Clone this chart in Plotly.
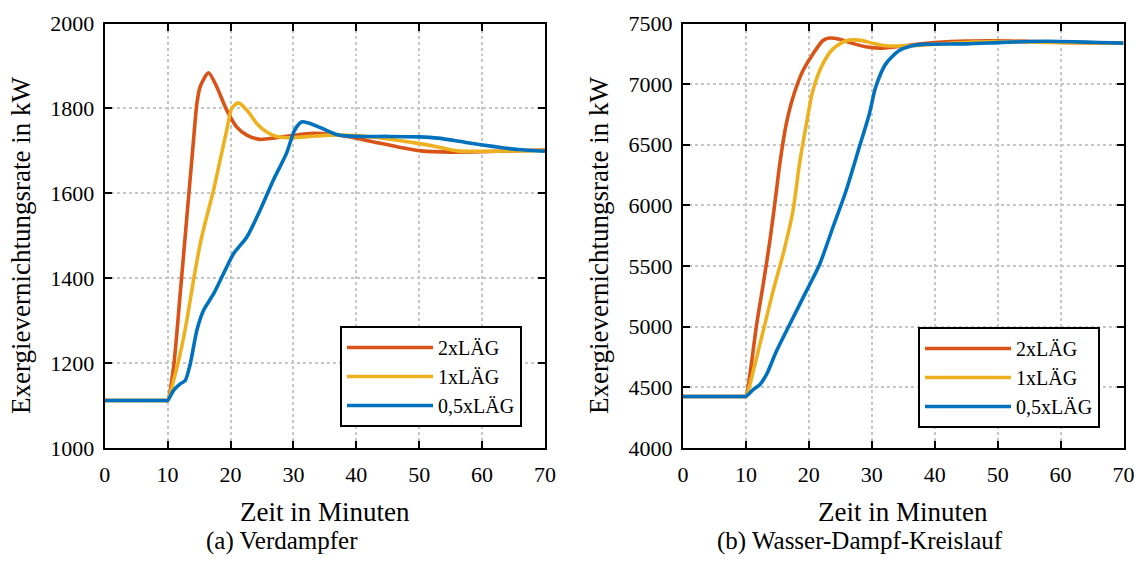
import plotly.graph_objects as go

FONT = "Liberation Serif"
C_RED = "#D95319"
C_YEL = "#EDB120"
C_BLU = "#0072BD"

series_names = ["2xLÄG", "1xLÄG", "0,5xLÄG"]

# (a) Verdampfer
a_t_red = [0, 5, 9.6, 10, 10.95, 12.0, 13.06, 14.12, 14.65, 15.18, 16.5, 17.8, 19.4, 21.0, 22.6, 24.7, 27.3, 32.6, 36, 40, 43.4, 47, 50.3, 55, 60, 65, 70]
a_v_red = [1112, 1112, 1112, 1112, 1191, 1363, 1544, 1725, 1811, 1851, 1884, 1851, 1796, 1756, 1737, 1727, 1731, 1741, 1739, 1730, 1719, 1708, 1700, 1697, 1698, 1700, 1702]
a_t_yel = [0, 5, 9.6, 10, 10.95, 12.0, 13.06, 14.12, 15.18, 16.2, 17.3, 18.35, 19.4, 20.2, 21.25, 22.6, 24.2, 25.7, 27.3, 30, 32.6, 36, 40, 45, 50, 52.4, 56.1, 60, 65, 70]
a_v_yel = [1112, 1112, 1112, 1112, 1159, 1222, 1301, 1395, 1481, 1544, 1607, 1678, 1749, 1800, 1813, 1796, 1764, 1745, 1734, 1731, 1734, 1737, 1736, 1728, 1717, 1711, 1700, 1699, 1700, 1701]
a_t_blu = [0, 5, 9.6, 10, 10.95, 12.0, 12.8, 13.6, 14.65, 15.7, 17.3, 18.9, 20.5, 22.6, 24.7, 26.8, 28.9, 30.2, 31.3, 32.3, 34.4, 37, 40, 45, 50, 53, 57.7, 62, 65.7, 70]
a_v_blu = [1112, 1112, 1112, 1112, 1136, 1151, 1159, 1198, 1277, 1324, 1363, 1411, 1458, 1497, 1560, 1631, 1694, 1749, 1768, 1766, 1754, 1738, 1734, 1734, 1733, 1730, 1719, 1710, 1703, 1699]

# (b) Wasser-Dampf-Kreislauf
b_t_red = [0, 5, 9.6, 10, 10.63, 11.7, 12.74, 13.8, 14.84, 15.37, 16.4, 17.47, 19.05, 20.63, 22.2, 23.26, 24.84, 26.95, 29.05, 31.2, 33.8, 36.4, 40, 45, 50, 55, 60, 65, 70]
b_v_red = [4425, 4425, 4425, 4425, 4605, 5018, 5348, 5706, 6119, 6339, 6669, 6890, 7110, 7247, 7358, 7380, 7371, 7336, 7308, 7297, 7308, 7325, 7342, 7355, 7357, 7352, 7345, 7340, 7338]
b_t_yel = [0, 5, 9.6, 10, 11.16, 12.2, 13.26, 14.3, 15.9, 17.47, 18.5, 19.6, 20.63, 22.2, 23.8, 25.9, 28.0, 30.1, 32.2, 35.4, 38, 42, 46, 50, 55, 60, 70]
b_v_yel = [4425, 4425, 4425, 4425, 4632, 4852, 5073, 5293, 5596, 5954, 6339, 6669, 6945, 7165, 7289, 7358, 7363, 7338, 7316, 7316, 7322, 7335, 7348, 7352, 7348, 7342, 7338]
b_t_blu = [0, 5, 9.6, 10, 11.16, 12.2, 13.26, 14.84, 16.95, 19.6, 21.7, 23.8, 25.9, 28.0, 29.6, 30.6, 32.2, 34.3, 36.4, 38, 45, 50, 55, 58, 62, 66, 70]
b_v_blu = [4425, 4425, 4425, 4425, 4481, 4522, 4605, 4797, 5018, 5293, 5513, 5816, 6119, 6477, 6752, 6972, 7165, 7275, 7316, 7328, 7332, 7342, 7352, 7354, 7350, 7343, 7338]

x_ticks = [0, 10, 20, 30, 40, 50, 60, 70]
a_y_ticks = [1000, 1200, 1400, 1600, 1800, 2000]
b_y_ticks = [4000, 4500, 5000, 5500, 6000, 6500, 7000, 7500]

fig = go.Figure()

def add(t, v, name, color, xa, ya, leg):
    fig.add_trace(go.Scatter(
        x=t, y=v, name=name, mode="lines",
        line=dict(color=color, width=3.6, shape="spline", smoothing=0.7),
        xaxis=xa, yaxis=ya, legend=leg, showlegend=True,
    ))

add(a_t_red, a_v_red, series_names[0], C_RED, "x", "y", "legend")
add(a_t_yel, a_v_yel, series_names[1], C_YEL, "x", "y", "legend")
add(a_t_blu, a_v_blu, series_names[2], C_BLU, "x", "y", "legend")
add(b_t_red, b_v_red, series_names[0], C_RED, "x2", "y2", "legend2")
add(b_t_yel, b_v_yel, series_names[1], C_YEL, "x2", "y2", "legend2")
add(b_t_blu, b_v_blu, series_names[2], C_BLU, "x2", "y2", "legend2")

W, H = 1140, 572
def px(x):
    return x / W
def py(y):
    return 1 - y / H

common_axis = dict(
    showline=True, linecolor="black", linewidth=2, mirror="ticks",
    ticks="inside", ticklen=7, tickwidth=1.5, tickcolor="black",
    showgrid=True, gridcolor="#c6c6c6", gridwidth=1.5, griddash="dot",
    zeroline=False, automargin=False,
    tickfont=dict(family=FONT, size=22, color="black"),
)
x_axis = dict(common_axis, ticklabelstandoff=6)
y_axis = dict(common_axis, ticklabelstandoff=4)

ydom = [py(448), py(23.5)]
leg_common = dict(xanchor="right", yanchor="top",
                  bordercolor="black", borderwidth=2, bgcolor="white",
                  font=dict(family=FONT, size=20, color="black"), itemwidth=86,
                  tracegroupgap=0)
fig.update_layout(
    width=W, height=H,
    margin=dict(l=0, r=0, t=0, b=0, autoexpand=False),
    paper_bgcolor="white", plot_bgcolor="white",
    font=dict(family=FONT, color="black"),
    xaxis=dict(domain=[px(104.7), px(545)], range=[0, 70], tickvals=x_ticks, anchor="y", **x_axis),
    yaxis=dict(domain=ydom, range=[1000, 2000], tickvals=a_y_ticks, anchor="x", **y_axis),
    xaxis2=dict(domain=[px(683), px(1123.5)], range=[0, 70], tickvals=x_ticks, anchor="y2", **x_axis),
    yaxis2=dict(domain=ydom, range=[4000, 7500], tickvals=b_y_ticks, anchor="x2", **y_axis),
    legend=dict(x=px(522), y=py(326), **leg_common),
    legend2=dict(x=px(1100), y=py(327), **leg_common),
    showlegend=True,
)

ann_font_title = dict(family=FONT, size=27, color="black")
ann_font_cap = dict(family=FONT, size=25, color="black")
annotations = [
    dict(text="Zeit in Minuten", x=px(325), y=py(512), font=ann_font_title),
    dict(text="Zeit in Minuten", x=px(903), y=py(512), font=ann_font_title),
    dict(text="Exergievernichtungsrate in kW", x=px(21), y=py(246), textangle=-90, font=ann_font_title),
    dict(text="Exergievernichtungsrate in kW", x=px(599), y=py(246), textangle=-90, font=ann_font_title),
    dict(text="(a) Verdampfer", x=px(282), y=py(541), font=ann_font_cap),
    dict(text="(b) Wasser-Dampf-Kreislauf", x=px(860), y=py(541), font=ann_font_cap),
]
for a in annotations:
    a.update(xref="paper", yref="paper", showarrow=False, xanchor="center", yanchor="middle", borderpad=0)
fig.update_layout(annotations=annotations)

fig.write_html("out.html")
